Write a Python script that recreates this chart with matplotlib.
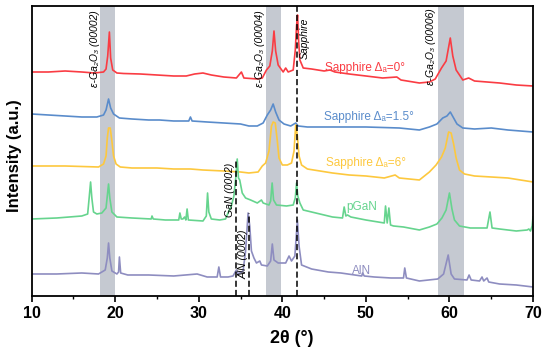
import matplotlib
matplotlib.use('Agg')
import matplotlib.pyplot as plt
from matplotlib.ticker import MultipleLocator

plt.rcParams['font.family'] = ['Liberation Sans', 'DejaVu Sans']

# XRD scans (offset intensities, a.u.)
red_x = [10, 12, 14, 16, 17.5, 18.6, 18.9, 19.1, 19.3, 19.45, 19.7, 20.2, 21, 23, 25, 27,
         28.5, 29.5, 30.5, 31.5, 33, 34.5, 35.1, 35.4, 37, 37.6, 38.1, 38.5, 38.8, 39.0, 39.2,
         39.5, 40.1, 40.4, 40.7, 41.3, 41.55, 41.7, 41.82, 41.95, 42.1, 42.5, 43.5, 45.0, 45.7,
         46.3, 48, 50, 52, 53.7, 54.2, 56.4, 57.6, 58.3, 59.05, 59.6, 60.1, 60.4, 60.8, 61.6,
         62.3, 63, 64.5, 66, 68, 70]
red_y = [224, 224, 225, 224, 223, 224, 227, 240, 264, 238, 226, 223, 222.5, 222, 221, 220,
         220, 222, 223, 221, 219, 218, 224, 218, 217, 218, 226, 230, 245, 265, 245,
         231, 224, 228, 224, 226, 246, 270, 281, 255, 236, 228, 227, 225, 226,
         224, 222, 220, 218, 219, 216, 213, 214, 217, 228, 235, 258, 240, 226, 216,
         218, 215, 214, 213, 211, 210]

blue_x = [10, 12, 14, 16, 17.8, 18.6, 18.9, 19.2, 19.45, 19.8, 20.5, 22, 24, 25.3, 27, 28.8,
          29.0, 29.2, 31, 33, 35, 36, 37, 37.7, 38.2, 38.6, 38.9, 39.2, 39.6, 40.2, 41.0, 41.6,
          41.9, 43, 46, 50, 54, 56.4, 57.6, 58.5, 59.2, 59.7, 60.1, 60.5, 60.9, 61.6, 63, 65,
          67, 70]
blue_y = [182, 181, 180, 179, 179, 181, 186, 197, 188, 182, 178, 177, 176, 176, 175, 175,
          179, 175, 174, 173, 172, 170, 170, 173, 181, 186, 192, 184, 176, 172, 170, 173,
          170, 169, 169, 169, 168, 166, 169, 172, 178, 180, 184, 178, 172, 168, 167, 168,
          166, 164]

yellow_x = [10, 12, 14, 16, 18.0, 18.6, 18.9, 19.05, 19.2, 19.4, 19.6, 19.8, 20.1, 20.6, 22,
            25, 27, 29, 30.5, 33, 35, 36, 37.1, 37.6, 38.0, 38.4, 38.7, 38.9, 39.15, 39.4, 39.6,
            40.0, 40.6, 41.1, 41.4, 41.6, 41.8, 42.0, 42.3, 43, 44.5, 46, 48, 50, 52.2, 53.5,
            54, 56.4, 57.6, 58.4, 59.05, 59.5, 59.9, 60.2, 60.5, 60.8, 61.2, 61.8, 63, 65, 67, 70]
yellow_y = [130, 130, 130, 129.5, 129, 132, 140, 158, 168, 168, 155, 140, 132, 129, 128,
            128, 127, 127, 126, 125, 124, 123, 124, 130, 133, 145, 170, 174, 173, 155, 138,
            131, 131, 133, 145, 171, 160, 140, 131, 127, 125, 123, 121, 120, 118, 121,
            118, 116, 124, 131, 139, 148, 164, 163, 152, 138, 126, 122, 120, 119, 118, 114]

green_x = [10, 13, 16, 16.7, 16.9, 17.05, 17.2, 17.4, 17.8, 18.4, 18.9, 19.05, 19.2, 19.35,
           19.6, 20.2, 22, 24.3, 24.4, 24.55, 26, 27.6, 27.74, 27.9, 28.1, 28.3, 28.45, 28.6,
           28.75, 30.5, 30.9, 31.05, 31.2, 31.5, 32.5, 33.2, 33.5, 33.9, 34.2, 34.45, 34.6,
           34.75, 34.9, 35.2, 35.6, 36.2, 37.0, 37.5, 37.7, 38.4, 38.6, 38.78, 38.95, 39.3,
           40.5, 41.3, 41.55, 41.7, 41.85, 42.1, 42.5, 44, 46, 47.2, 47.4, 47.6, 47.8, 48.2,
           50, 52.2, 52.35, 52.55, 52.75, 52.95, 53.3, 54.5, 56.4, 57.6, 58.5, 59.1, 59.6,
           60.0, 60.3, 60.6, 61.2, 62.5, 64.5, 64.85, 65.1, 66, 68, 69.3, 69.5, 69.7, 69.9, 70]
green_y = [77, 78, 80, 82, 100, 114, 98, 84, 82, 83, 88, 100, 112, 98,
           84, 79, 78, 77, 80, 77, 76, 76, 83, 77, 77, 79, 76, 87,
           76, 75, 80, 103, 84, 77, 76, 77, 83, 90, 100, 120, 137,
           118, 116, 103, 98, 96, 93, 96, 93, 91, 95, 113, 96, 91,
           90, 91, 98, 113, 100, 93, 86, 83, 79, 78, 89, 80, 81, 79,
           76, 73, 90, 73, 88, 71, 70, 69, 66, 69, 72, 78, 86,
           103, 87, 76, 70, 68, 68, 84, 68, 67, 65, 66, 67, 65, 70, 79]

purple_x = [10, 13, 16, 18.0, 18.8, 19.05, 19.2, 19.35, 19.6, 20.2, 20.4, 20.5, 20.65, 21.5,
            24, 27, 29.8, 31, 32.2, 32.4, 32.6, 33.5, 34.1, 34.5, 34.7, 35.3, 35.6, 35.9, 36.1,
            36.3, 36.6, 36.9, 37.3, 37.5, 38.2, 38.6, 38.8, 39.0, 39.5, 40.4, 40.8, 41.1, 41.5,
            41.8, 42.0, 42.3, 43.5, 45.5, 47, 49.5, 49.6, 49.8, 51, 53, 54.5, 54.65, 54.85,
            56.4, 57.5, 58.6, 59.3, 59.85, 60.2, 60.6, 62.1, 62.35, 62.6, 63.6, 63.9, 64.1,
            64.5, 64.7, 66, 68, 70]
purple_y = [22, 22, 23, 22, 26, 38, 53, 38, 25, 22, 24, 39, 23, 21,
            21, 20, 22, 19, 19, 29, 19, 19, 20, 26, 22, 25, 45, 83, 70,
            45, 38, 33, 35, 31, 30, 35, 52, 36, 33, 33, 40, 35, 40,
            76, 50, 31, 27, 24, 23, 20, 23, 20, 19, 18, 18, 28, 18,
            15, 16, 17, 22, 41, 22, 17, 16, 21, 16, 15, 19, 15,
            18, 14, 12, 11, 9]

bands = [(18.2, 20.0), (38.0, 39.8), (58.6, 61.7)]

fig = plt.figure(figsize=(5.5, 3.53), dpi=100)
ax = fig.add_axes([0.0576, 0.1615, 0.9115, 0.8215])

for a, b in bands:
    ax.axvspan(a, b, color='#C5C9D1', lw=0, zorder=0)

ax.plot(red_x, red_y, color='#FA3C43', lw=1.2, zorder=2)
ax.plot(blue_x, blue_y, color='#5A8CCB', lw=1.2, zorder=2)
ax.plot(yellow_x, yellow_y, color='#FDC83E', lw=1.2, zorder=2)
ax.plot(green_x, green_y, color='#66D48E', lw=1.2, zorder=2)
ax.plot(purple_x, purple_y, color='#8E8DC0', lw=1.2, zorder=2)

# reference lines
ax.axvline(41.8, color='black', ls=(0, (4, 2)), lw=1.1, zorder=3)
ax.vlines(34.5, 0, 136, color='black', linestyles=[(0, (4, 2))], lw=1.1, zorder=3)
ax.vlines(36.0, 0, 83, color='black', linestyles=[(0, (4, 2))], lw=1.1, zorder=3)

lab = dict(rotation=90, ha='center', va='top', fontsize=7.5, style='italic', color='black')
ax.text(17.6, 286, 'ε-Ga₂O₃ (00002)', **lab)
ax.text(37.3, 286, 'ε-Ga₂O₃ (00004)', **lab)
ax.text(42.7, 278, 'Sapphire', **lab)
ax.text(57.85, 288, 'ε-Ga₂O₃ (00006)', **lab)
ax.text(33.7, 133, 'GaN (0002)', **lab)
ax.text(35.3, 66, 'AlN (0002)', **lab)

ser = dict(ha='center', va='center', fontsize=8.5)
ax.text(49.9, 228, 'Sapphire Δₐ=0°', color='#FA3C43', **ser)
ax.text(50.35, 179, 'Sapphire Δₐ=1.5°', color='#5A8CCB', **ser)
ax.text(50.0, 133, 'Sapphire Δₐ=6°', color='#FDC83E', **ser)
ax.text(49.45, 89, 'pGaN', color='#66D48E', **ser)
ax.text(49.5, 25, 'AlN', color='#8E8DC0', **ser)

ax.set_xlim(10, 70)
ax.set_ylim(0, 290)
ax.xaxis.set_major_locator(MultipleLocator(10))
ax.xaxis.set_minor_locator(MultipleLocator(5))
ax.set_yticks([])
ax.tick_params(axis='x', which='major', direction='out', length=4, width=1.2, labelsize=11.5)
ax.tick_params(axis='x', which='minor', direction='out', length=2.5, width=1.0)
for t in ax.get_xticklabels():
    t.set_fontweight('bold')
for s in ax.spines.values():
    s.set_linewidth(1.3)

ax.set_xlabel('2θ (°)', fontsize=13, fontweight='bold')
ax.set_ylabel('Intensity (a.u.)', fontsize=12, fontweight='bold')
ax.xaxis.set_label_coords(0.519, -0.118)
ax.yaxis.set_label_coords(-0.02, 0.483)

fig.savefig('out.png', dpi=100)
